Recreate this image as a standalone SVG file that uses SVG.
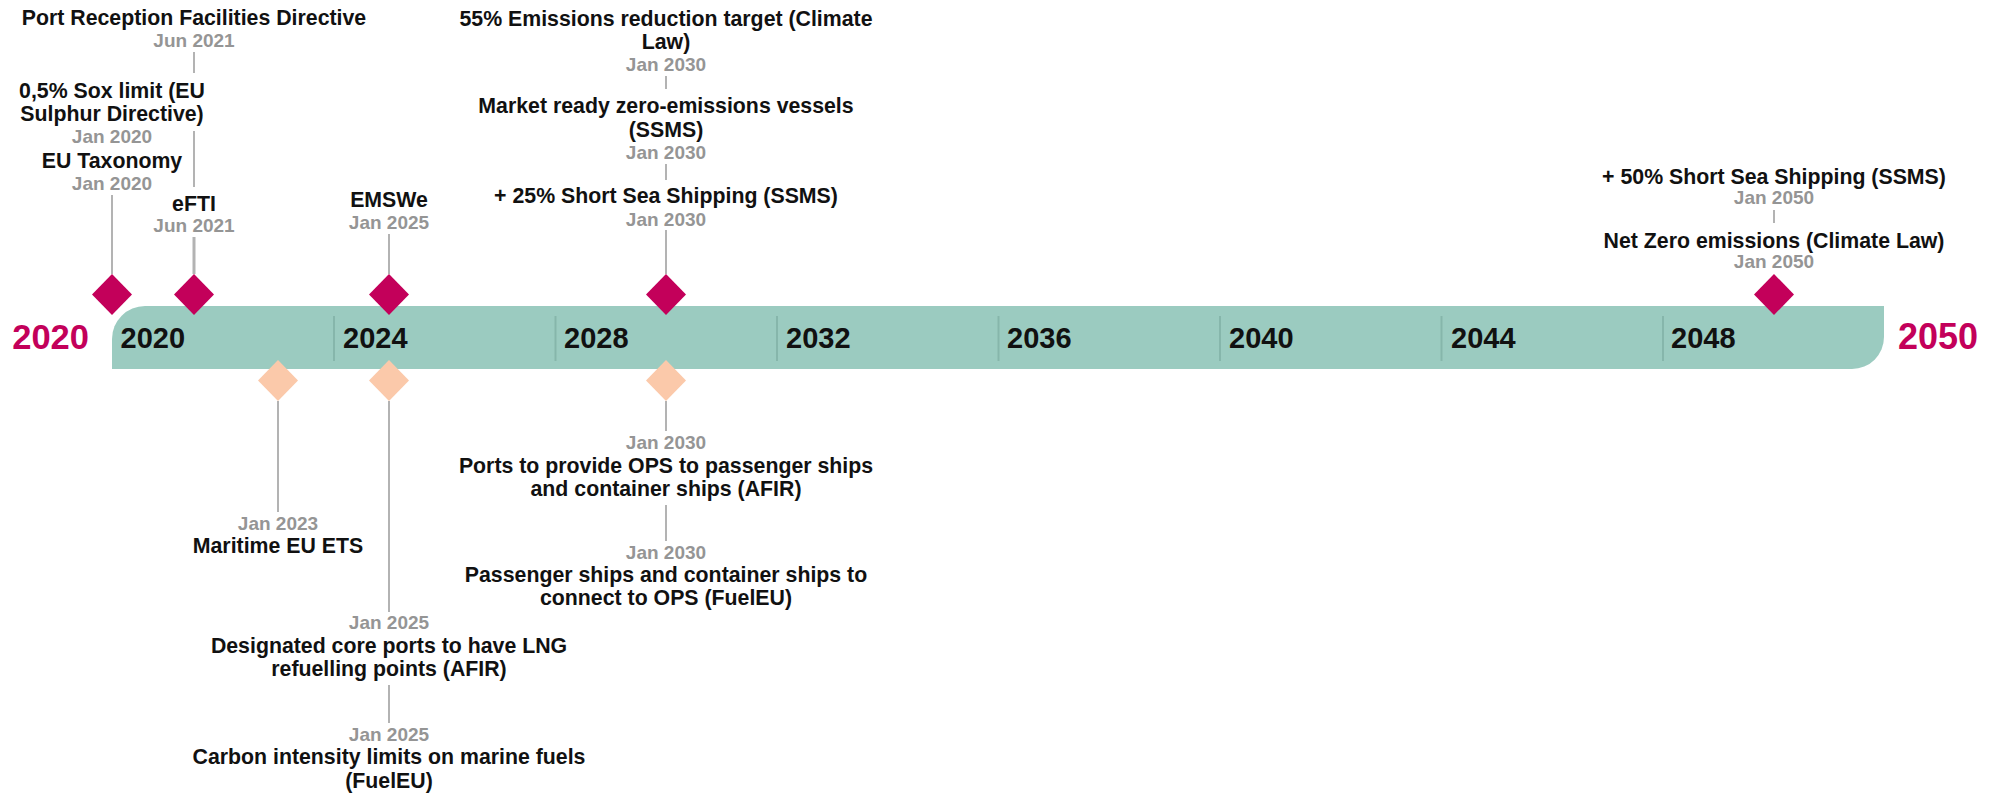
<svg xmlns="http://www.w3.org/2000/svg" width="2003" height="795" viewBox="0 0 2003 795">
<style>
.t{font-family:"Liberation Sans",Arial,sans-serif;font-weight:bold;font-size:21.3px;fill:#111;text-anchor:middle}
.d{font-family:"Liberation Sans",Arial,sans-serif;font-weight:bold;font-size:19px;fill:#959595;text-anchor:middle}
.yr{font-family:"Liberation Sans",Arial,sans-serif;font-weight:bold;font-size:29px;fill:#111}
.big{font-family:"Liberation Sans",Arial,sans-serif;font-weight:bold;font-size:35px;fill:#C3005A}
.tick{stroke:#86b6ab;stroke-width:2}
.ln{stroke:#b3b3b3;stroke-width:2;fill:none}
.up{fill:#C3005A}
.lo{fill:#FBC9AA}
</style>
<rect width="2003" height="795" fill="#fff"/>
<g id="axis">
<path d="M112,369 L112,339 A33,33 0 0 1 145,306 L1884,306 L1884,337 A32,32 0 0 1 1852,369 Z" fill="#9BCBC0"/>
<line class="tick" x1="334" y1="316" x2="334" y2="361"/>
<line class="tick" x1="555.5" y1="316" x2="555.5" y2="361"/>
<line class="tick" x1="777" y1="316" x2="777" y2="361"/>
<line class="tick" x1="998.5" y1="316" x2="998.5" y2="361"/>
<line class="tick" x1="1220" y1="316" x2="1220" y2="361"/>
<line class="tick" x1="1441.5" y1="316" x2="1441.5" y2="361"/>
<line class="tick" x1="1663" y1="316" x2="1663" y2="361"/>
<text class="yr" x="120.5" y="348">2020</text>
<text class="yr" x="343" y="348">2024</text>
<text class="yr" x="564" y="348">2028</text>
<text class="yr" x="786" y="348">2032</text>
<text class="yr" x="1007" y="348">2036</text>
<text class="yr" x="1229" y="348">2040</text>
<text class="yr" x="1451" y="348">2044</text>
<text class="yr" x="1671" y="348">2048</text>
<text class="big" x="89" y="349" text-anchor="end" style="font-size:34.5px">2020</text>
<text class="big" x="1898" y="349" style="font-size:36px">2050</text>
</g>
<g id="connectors">
<line class="ln" x1="194" y1="52" x2="194" y2="73"/>
<line class="ln" x1="194" y1="131" x2="194" y2="187"/>
<line class="ln" x1="194" y1="237" x2="194" y2="274" style="stroke-width:3"/>
<line class="ln" x1="112" y1="195" x2="112" y2="274"/>
<line class="ln" x1="389" y1="234" x2="389" y2="274"/>
<line class="ln" x1="666" y1="76" x2="666" y2="89"/>
<line class="ln" x1="666" y1="164" x2="666" y2="180"/>
<line class="ln" x1="666" y1="230" x2="666" y2="274"/>
<line class="ln" x1="1774" y1="210" x2="1774" y2="223"/>
<line class="ln" x1="278" y1="401" x2="278" y2="512"/>
<line class="ln" x1="389" y1="401" x2="389" y2="612"/>
<line class="ln" x1="389" y1="685" x2="389" y2="723"/>
<line class="ln" x1="666" y1="401" x2="666" y2="431"/>
<line class="ln" x1="666" y1="505" x2="666" y2="541"/>
</g>
<g id="n2020">
<polygon class="up" points="112,274 132,294.5 112,315 92,294.5"/>
<text class="t" x="112" y="97.7">0,5% Sox limit (EU</text>
<text class="t" x="112" y="120.7">Sulphur Directive)</text>
<text class="d" x="112" y="142.7">Jan 2020</text>
<text class="t" x="112" y="168">EU Taxonomy</text>
<text class="d" x="112" y="190">Jan 2020</text>
</g>
<g id="n2021">
<polygon class="up" points="194,274 214,294.5 194,315 174,294.5"/>
<text class="t" x="194" y="25">Port Reception Facilities Directive</text>
<text class="d" x="194" y="47">Jun 2021</text>
<text class="t" x="194" y="210.7">eFTI</text>
<text class="d" x="194" y="231.7">Jun 2021</text>
</g>
<g id="n2025">
<polygon class="up" points="389,274 409,294.5 389,315 369,294.5"/>
<text class="t" x="389" y="207.3">EMSWe</text>
<text class="d" x="389" y="229.3">Jan 2025</text>
</g>
<g id="n2030">
<polygon class="up" points="666,274 686,294.5 666,315 646,294.5"/>
<text class="t" x="666" y="26">55% Emissions reduction target (Climate</text>
<text class="t" x="666" y="49.3">Law)</text>
<text class="d" x="666" y="70.7">Jan 2030</text>
<text class="t" x="666" y="113.3">Market ready zero-emissions vessels</text>
<text class="t" x="666" y="136.7">(SSMS)</text>
<text class="d" x="666" y="159">Jan 2030</text>
<text class="t" x="666" y="203.3">+ 25% Short Sea Shipping (SSMS)</text>
<text class="d" x="666" y="225.7">Jan 2030</text>
</g>
<g id="n2050">
<polygon class="up" points="1774,274 1794,294.5 1774,315 1754,294.5"/>
<text class="t" x="1774" y="184">+ 50% Short Sea Shipping (SSMS)</text>
<text class="d" x="1774" y="204.3">Jan 2050</text>
<text class="t" x="1774" y="247.7">Net Zero emissions (Climate Law)</text>
<text class="d" x="1774" y="268.3">Jan 2050</text>
</g>
<g id="l2023">
<polygon class="lo" points="278,360 298,380.5 278,401 258,380.5"/>
<text class="d" x="278" y="530">Jan 2023</text>
<text class="t" x="278" y="552.7">Maritime EU ETS</text>
</g>
<g id="l2025">
<polygon class="lo" points="389,360 409,380.5 389,401 369,380.5"/>
<text class="d" x="389" y="629.3">Jan 2025</text>
<text class="t" x="389" y="652.7">Designated core ports to have LNG</text>
<text class="t" x="389" y="676">refuelling points (AFIR)</text>
<text class="d" x="389" y="740.7">Jan 2025</text>
<text class="t" x="389" y="764.3">Carbon intensity limits on marine fuels</text>
<text class="t" x="389" y="787.7">(FuelEU)</text>
</g>
<g id="l2030">
<polygon class="lo" points="666,360 686,380.5 666,401 646,380.5"/>
<text class="d" x="666" y="449.3">Jan 2030</text>
<text class="t" x="666" y="472.7">Ports to provide OPS to passenger ships</text>
<text class="t" x="666" y="496">and container ships (AFIR)</text>
<text class="d" x="666" y="559">Jan 2030</text>
<text class="t" x="666" y="581.7">Passenger ships and container ships to</text>
<text class="t" x="666" y="605">connect to OPS (FuelEU)</text>
</g>
</svg>
